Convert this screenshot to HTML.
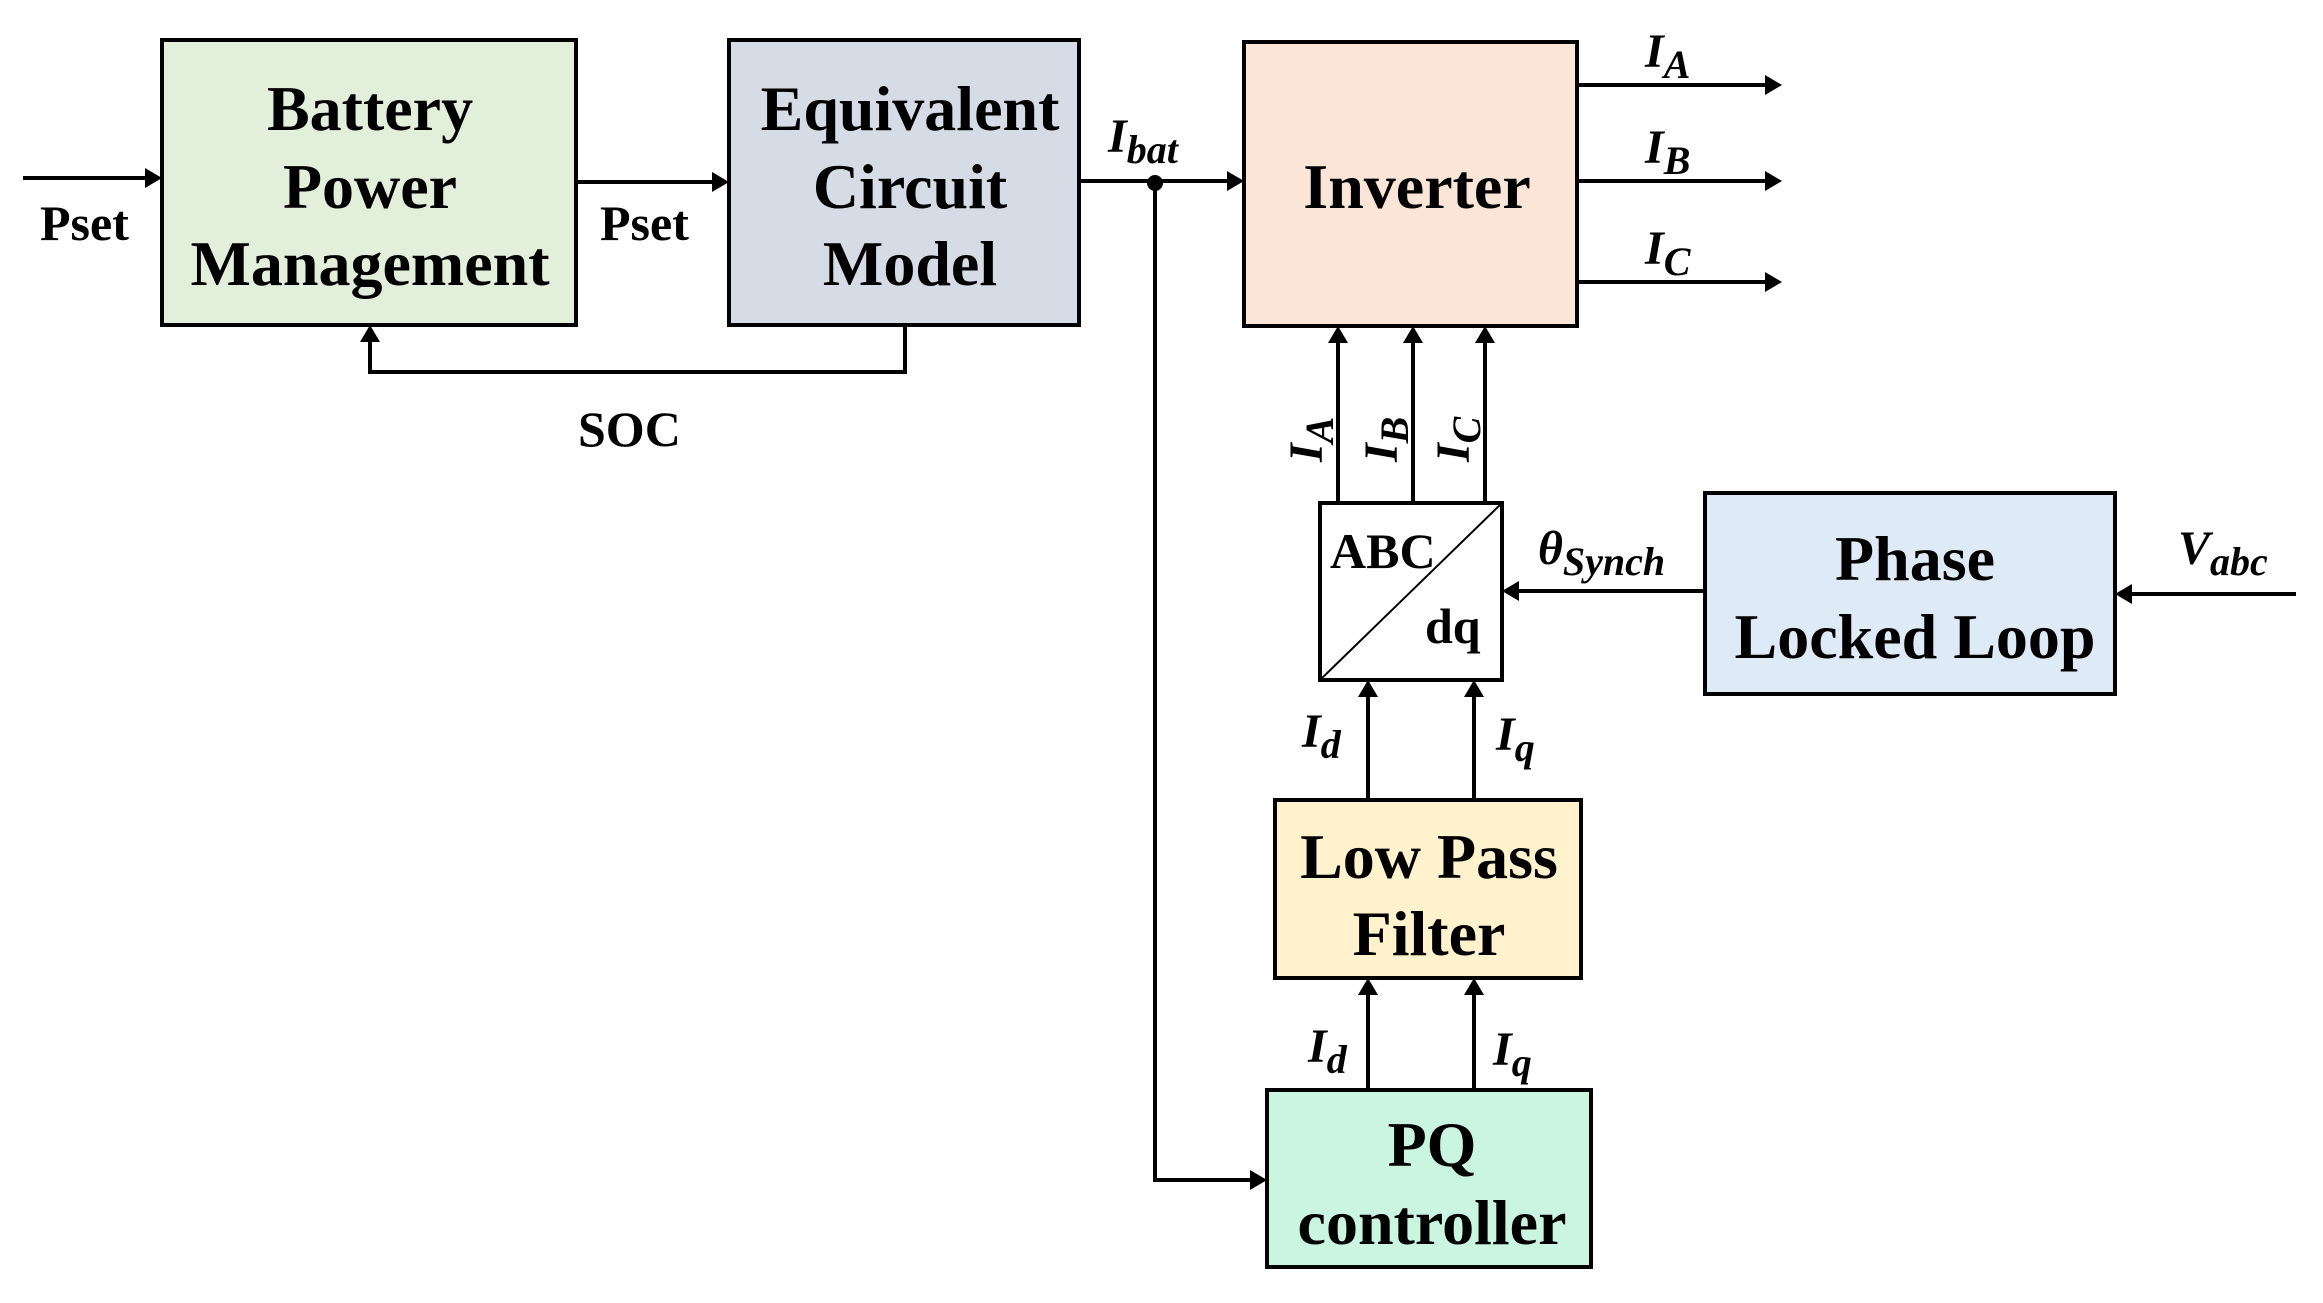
<!DOCTYPE html>
<html><head><meta charset="utf-8"><style>
html,body{margin:0;padding:0;background:#fff;}
svg{display:block;}
text{font-family:"Liberation Serif",serif;font-weight:bold;fill:#000;}
.b{font-size:64px;text-anchor:middle;}
.l{font-size:50px;}
.i{font-style:italic;font-size:48px;}
.s{font-style:italic;font-size:40px;}
</style></head><body>
<svg width="2323" height="1303" viewBox="0 0 2323 1303" xmlns="http://www.w3.org/2000/svg">
<g stroke="#000" stroke-width="4">
<rect x="162" y="40" width="414" height="285" fill="#e2efda"/>
<rect x="729" y="40" width="350" height="285" fill="#d6dce5"/>
<rect x="1244" y="42" width="333" height="284" fill="#fbe5d6"/>
<rect x="1320" y="503" width="182" height="177" fill="#fff"/>
<rect x="1705" y="493" width="410" height="201" fill="#deebf7"/>
<rect x="1275" y="800" width="306" height="178" fill="#fff2cc"/>
<rect x="1267" y="1090" width="324" height="177" fill="#c9f5e1"/>
</g>
<line x1="1320" y1="680" x2="1502" y2="503" stroke="#000" stroke-width="2"/>
<g stroke="#000" stroke-width="4" fill="none">
<line x1="23" y1="178" x2="148" y2="178"/>
<line x1="576" y1="182" x2="716" y2="182"/>
<polyline points="905,325 905,372 370,372 370,340"/>
<line x1="1079" y1="181" x2="1230" y2="181"/>
<polyline points="1155,181 1155,1180 1253,1180"/>
<line x1="1577" y1="85" x2="1768" y2="85"/>
<line x1="1577" y1="181" x2="1768" y2="181"/>
<line x1="1577" y1="282" x2="1768" y2="282"/>
<line x1="1338" y1="503" x2="1338" y2="340"/>
<line x1="1413" y1="503" x2="1413" y2="340"/>
<line x1="1485" y1="503" x2="1485" y2="340"/>
<line x1="1705" y1="591" x2="1516" y2="591"/>
<line x1="2296" y1="594" x2="2129" y2="594"/>
<line x1="1368" y1="800" x2="1368" y2="694"/>
<line x1="1474" y1="800" x2="1474" y2="694"/>
<line x1="1368" y1="1090" x2="1368" y2="992"/>
<line x1="1474" y1="1090" x2="1474" y2="992"/>
</g>
<g fill="#000">
<polygon points="162,178 145,168 145,188"/>
<polygon points="729,182 712,172 712,192"/>
<polygon points="370,325 360,342 380,342"/>
<polygon points="1244,181 1227,171 1227,191"/>
<polygon points="1267,1180 1250,1170 1250,1190"/>
<polygon points="1782,85 1765,75 1765,95"/>
<polygon points="1782,181 1765,171 1765,191"/>
<polygon points="1782,282 1765,272 1765,292"/>
<polygon points="1338,326 1328,343 1348,343"/>
<polygon points="1413,326 1403,343 1423,343"/>
<polygon points="1485,326 1475,343 1495,343"/>
<polygon points="1502,591 1519,581 1519,601"/>
<polygon points="2115,594 2132,584 2132,604"/>
<polygon points="1368,680 1358,697 1378,697"/>
<polygon points="1474,680 1464,697 1484,697"/>
<polygon points="1368,978 1358,995 1378,995"/>
<polygon points="1474,978 1464,995 1484,995"/>
<circle cx="1155" cy="183" r="8"/>
</g>
<text class="b" x="370" y="130">Battery</text>
<text class="b" x="370" y="208">Power</text>
<text class="b" x="370" y="285">Management</text>
<text class="b" x="910" y="130">Equivalent</text>
<text class="b" x="910" y="208">Circuit</text>
<text class="b" x="910" y="285">Model</text>
<text class="b" x="1417" y="208">Inverter</text>
<text class="b" x="1915" y="580">Phase</text>
<text class="b" x="1915" y="658">Locked Loop</text>
<text class="b" x="1429" y="878">Low Pass</text>
<text class="b" x="1429" y="955">Filter</text>
<text class="b" x="1432" y="1166">PQ</text>
<text class="b" x="1432" y="1244">controller</text>
<text class="l" x="40" y="240">Pset</text>
<text class="l" x="600" y="240">Pset</text>
<text class="l" x="578" y="446">SOC</text>
<text class="l" x="1330" y="568">ABC</text>
<text class="l" x="1425" y="643">dq</text>
<text x="1108" y="152"><tspan class="i">I</tspan><tspan class="s" dy="11">bat</tspan></text>
<text x="1645" y="67"><tspan class="i">I</tspan><tspan class="s" dy="11">A</tspan></text>
<text x="1645" y="163"><tspan class="i">I</tspan><tspan class="s" dy="11">B</tspan></text>
<text x="1645" y="264"><tspan class="i">I</tspan><tspan class="s" dy="11">C</tspan></text>
<text transform="translate(1322,462) rotate(-90)"><tspan class="i">I</tspan><tspan class="s" dy="11">A</tspan></text>
<text transform="translate(1397,462) rotate(-90)"><tspan class="i">I</tspan><tspan class="s" dy="11">B</tspan></text>
<text transform="translate(1469,462) rotate(-90)"><tspan class="i">I</tspan><tspan class="s" dy="11">C</tspan></text>
<text x="1538" y="564"><tspan class="i">θ</tspan><tspan class="s" dy="11">Synch</tspan></text>
<text x="2178" y="564"><tspan class="i">V</tspan><tspan class="s" dy="11">abc</tspan></text>
<text x="1302" y="747"><tspan class="i">I</tspan><tspan class="s" dy="11">d</tspan></text>
<text x="1496" y="750"><tspan class="i">I</tspan><tspan class="s" dy="11">q</tspan></text>
<text x="1308" y="1062"><tspan class="i">I</tspan><tspan class="s" dy="11">d</tspan></text>
<text x="1493" y="1065"><tspan class="i">I</tspan><tspan class="s" dy="11">q</tspan></text>
</svg>
</body></html>
